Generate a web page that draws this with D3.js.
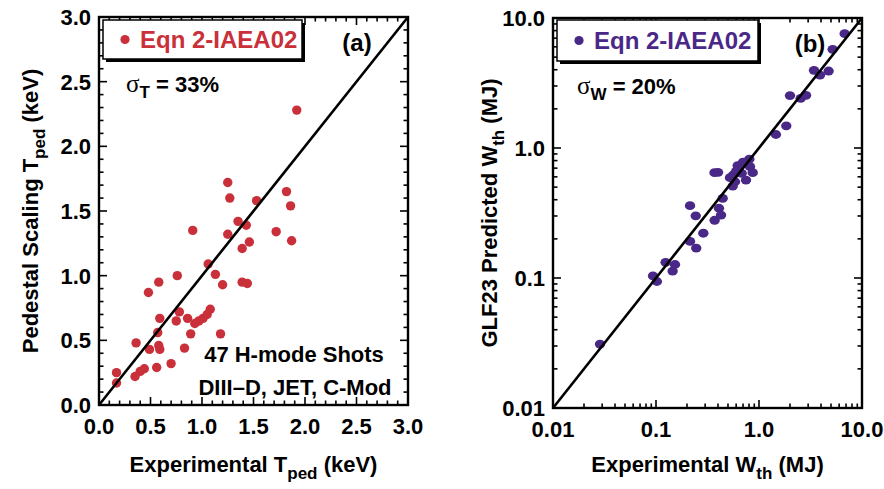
<!DOCTYPE html>
<html>
<head>
<meta charset="utf-8">
<script src="https://cdn.jsdelivr.net/npm/d3@7"></script>
<style>
  body { margin: 0; background: #fff; }
  svg text { font-family: "Liberation Sans", Arial, sans-serif; font-weight: bold; }
</style>
</head>
<body>
<div id="chart"></div>
<script>
const width = 884;
const height = 489;

const redColor = "#c9303a";
const purpleColor = "#4a2888";

// panel (a): experimental vs scaling T_ped (keV)
const tExp = [1.25, 1.27, 1.82, 1.86, 1.53, 1.35, 1.43, 0.91, 1.25, 1.72, 1.87, 1.46, 1.39,
  1.06, 1.13, 0.76, 0.58, 1.20, 1.39, 1.44, 0.48, 1.08, 1.05, 1.01, 0.97, 0.93, 0.78, 0.86,
  0.59, 0.75, 0.57, 0.89, 1.18, 0.36, 0.58, 0.49, 0.59, 0.83, 0.70, 0.56, 0.44, 0.40, 0.35,
  0.17, 0.17, 1.92];
const tPred = [1.72, 1.60, 1.65, 1.54, 1.58, 1.42, 1.39, 1.35, 1.32, 1.34, 1.27, 1.26, 1.21,
  1.09, 1.01, 1.00, 0.95, 0.93, 0.95, 0.94, 0.87, 0.74, 0.70, 0.67, 0.65, 0.63, 0.72, 0.67,
  0.67, 0.65, 0.56, 0.55, 0.55, 0.48, 0.46, 0.43, 0.43, 0.44, 0.32, 0.29, 0.28, 0.26, 0.22,
  0.25, 0.17, 2.28];

// panel (b): experimental vs GLF23 W_th (MJ)
const wExp = [0.0286, 0.0935, 0.102, 0.124, 0.153, 0.145, 0.214, 0.246, 0.288, 0.214, 0.243,
  0.371, 0.409, 0.428, 0.444, 0.37, 0.40, 0.523, 0.556, 0.621, 0.748, 0.818, 0.869, 0.679,
  0.585, 0.805, 0.56, 0.70, 0.60, 6.79, 5.19, 3.42, 3.91, 4.74, 2.0, 2.54, 2.86, 1.84, 1.46];
const wPred = [0.031, 0.104, 0.094, 0.132, 0.127, 0.113, 0.191, 0.170, 0.221, 0.360, 0.301,
  0.278, 0.344, 0.305, 0.410, 0.646, 0.65, 0.591, 0.510, 0.731, 0.567, 0.718, 0.646, 0.639,
  0.550, 0.82, 0.62, 0.78, 0.66, 7.57, 5.74, 3.96, 3.64, 3.91, 2.53, 2.41, 2.54, 1.48, 1.27];

const linTicks = [0, 0.5, 1.0, 1.5, 2.0, 2.5, 3.0];
const linTickLabels = ["0.0", "0.5", "1.0", "1.5", "2.0", "2.5", "3.0"];
const logTicks = [0.01, 0.1, 1, 10];
const logTickLabels = ["0.01", "0.1", "1.0", "10.0"];

const svg = d3.select("#chart")
  .append("svg")
  .attr("width", width)
  .attr("height", height);

function drawPanel(cfg) {
  const g = svg.append("g");
  const x = cfg.x, y = cfg.y;
  const [x0, x1] = x.range();
  const [y0, y1] = y.range();

  // data points
  g.append("g")
    .selectAll("ellipse")
    .data(cfg.xs.map((v, i) => [v, cfg.ys[i]]))
    .join("ellipse")
    .attr("cx", d => x(d[0]))
    .attr("cy", d => y(d[1]))
    .attr("rx", cfg.rx)
    .attr("ry", cfg.ry)
    .attr("fill", cfg.color);

  // y = x line
  const dom = x.domain();
  g.append("line")
    .attr("x1", x(dom[0])).attr("y1", y(dom[0]))
    .attr("x2", x(dom[1])).attr("y2", y(dom[1]))
    .attr("stroke", "#000")
    .attr("stroke-width", 2.6);

  // ticks on all four sides, pointing inward
  const ticks = g.append("g").attr("stroke", "#000").attr("stroke-width", 1.6);
  cfg.minor.forEach(v => {
    const isMajor = cfg.major.some(m => Math.abs(m - v) < 1e-9);
    const len = isMajor ? 8 : 4.5;
    const px = x(v), py = y(v);
    if (px > x0 + 0.5 && px < x1 - 0.5) {
      ticks.append("line").attr("x1", px).attr("x2", px).attr("y1", y0).attr("y2", y0 - len);
      ticks.append("line").attr("x1", px).attr("x2", px).attr("y1", y1).attr("y2", y1 + len);
    }
    if (py < y0 - 0.5 && py > y1 + 0.5) {
      ticks.append("line").attr("y1", py).attr("y2", py).attr("x1", x0).attr("x2", x0 + len);
      ticks.append("line").attr("y1", py).attr("y2", py).attr("x1", x1).attr("x2", x1 - len);
    }
  });

  // frame
  g.append("rect")
    .attr("x", x0).attr("y", y1)
    .attr("width", x1 - x0).attr("height", y0 - y1)
    .attr("fill", "none")
    .attr("stroke", "#000")
    .attr("stroke-width", 2.4);

  // tick labels
  g.append("g")
    .selectAll("text")
    .data(cfg.major)
    .join("text")
    .attr("x", d => x(d))
    .attr("y", y0 + 29)
    .attr("text-anchor", "middle")
    .attr("font-size", 22)
    .text((d, i) => cfg.labels[i]);

  g.append("g")
    .selectAll("text")
    .data(cfg.major)
    .join("text")
    .attr("x", x0 - 8)
    .attr("y", d => y(d))
    .attr("dy", "0.36em")
    .attr("text-anchor", "end")
    .attr("font-size", 22)
    .text((d, i) => cfg.labels[i]);

  // axis titles
  const xt = g.append("text")
    .attr("x", (x0 + x1) / 2)
    .attr("y", 472)
    .attr("text-anchor", "middle")
    .attr("font-size", 22);
  xt.append("tspan").text(cfg.xTitle[0]);
  xt.append("tspan").attr("dy", 7).attr("font-size", 17).text(cfg.xTitle[1]);
  xt.append("tspan").attr("dy", -7).text(cfg.xTitle[2]);

  const yt = g.append("text")
    .attr("transform", `translate(${cfg.yTitleX},${(y0 + y1) / 2}) rotate(-90)`)
    .attr("text-anchor", "middle")
    .attr("font-size", 22);
  yt.append("tspan").text(cfg.yTitle[0]);
  yt.append("tspan").attr("dy", 7).attr("font-size", 17).text(cfg.yTitle[1]);
  yt.append("tspan").attr("dy", -7).text(cfg.yTitle[2]);

  // legend box with shadow
  const lg = cfg.legend;
  g.append("rect")
    .attr("x", lg.x + 3).attr("y", lg.y + 3)
    .attr("width", lg.w).attr("height", lg.h)
    .attr("fill", "#000");
  g.append("rect")
    .attr("x", lg.x).attr("y", lg.y)
    .attr("width", lg.w).attr("height", lg.h)
    .attr("fill", "#fff")
    .attr("stroke", "#000")
    .attr("stroke-width", 1.5);
  g.append("circle")
    .attr("cx", lg.x + 22).attr("cy", lg.y + lg.h / 2)
    .attr("r", 4.6)
    .attr("fill", cfg.color);
  g.append("text")
    .attr("x", lg.x + 37).attr("y", lg.y + lg.h / 2 + 8.5)
    .attr("font-size", 24)
    .attr("fill", cfg.color)
    .text("Eqn 2-IAEA02");

  // panel tag
  g.append("text")
    .attr("x", cfg.tag.x).attr("y", cfg.tag.y)
    .attr("text-anchor", "middle")
    .attr("font-size", 24)
    .text(cfg.tag.text);

  // sigma annotation
  const st = g.append("text")
    .attr("x", cfg.sigma.x).attr("y", cfg.sigma.y)
    .attr("font-size", 22);
  st.append("tspan")
    .style("font-family", "'Liberation Serif', 'DejaVu Serif', serif")
    .style("font-weight", "normal")
    .attr("font-size", 25)
    .text("σ");
  st.append("tspan").attr("dy", 6).attr("font-size", 17).text(cfg.sigma.sub);
  st.append("tspan").attr("dy", -6).text(" = " + cfg.sigma.value);

  return g;
}

drawPanel({
  x: d3.scaleLinear().domain([0, 3]).range([99, 408]),
  y: d3.scaleLinear().domain([0, 3]).range([405, 17]),
  xs: tExp, ys: tPred,
  color: redColor, rx: 4.7, ry: 4.7,
  major: linTicks, labels: linTickLabels,
  minor: d3.range(0, 31).map(i => i / 10),
  xTitle: ["Experimental T", "ped", " (keV)"],
  yTitle: ["Pedestal Scaling T", "ped", " (keV)"],
  yTitleX: 38,
  legend: { x: 103, y: 20, w: 199, h: 39 },
  tag: { x: 357, y: 51, text: "(a)" },
  sigma: { x: 126, y: 92, sub: "T", value: "33%" }
});

const logMinor = [];
[0.01, 0.1, 1].forEach(dec => d3.range(1, 10).forEach(k => logMinor.push(dec * k)));
logMinor.push(10);

drawPanel({
  x: d3.scaleLog().domain([0.01, 10]).range([553, 862]),
  y: d3.scaleLog().domain([0.01, 10]).range([408, 18]),
  xs: wExp, ys: wPred,
  color: purpleColor, rx: 5.2, ry: 4.4,
  major: logTicks, labels: logTickLabels,
  minor: logMinor,
  xTitle: ["Experimental W", "th", " (MJ)"],
  yTitle: ["GLF23 Predicted W", "th", " (MJ)"],
  yTitleX: 497,
  legend: { x: 557, y: 20, w: 201, h: 41 },
  tag: { x: 810, y: 52, text: "(b)" },
  sigma: { x: 577, y: 94, sub: "W", value: "20%" }
});

// panel (a) footnote
const note = svg.append("g")
  .attr("text-anchor", "middle")
  .attr("font-size", 22);
note.append("text").attr("x", 294).attr("y", 362).text("47 H-mode Shots");
note.append("text").attr("x", 295).attr("y", 395).text("DIII–D, JET, C-Mod");
</script>
</body>
</html>
